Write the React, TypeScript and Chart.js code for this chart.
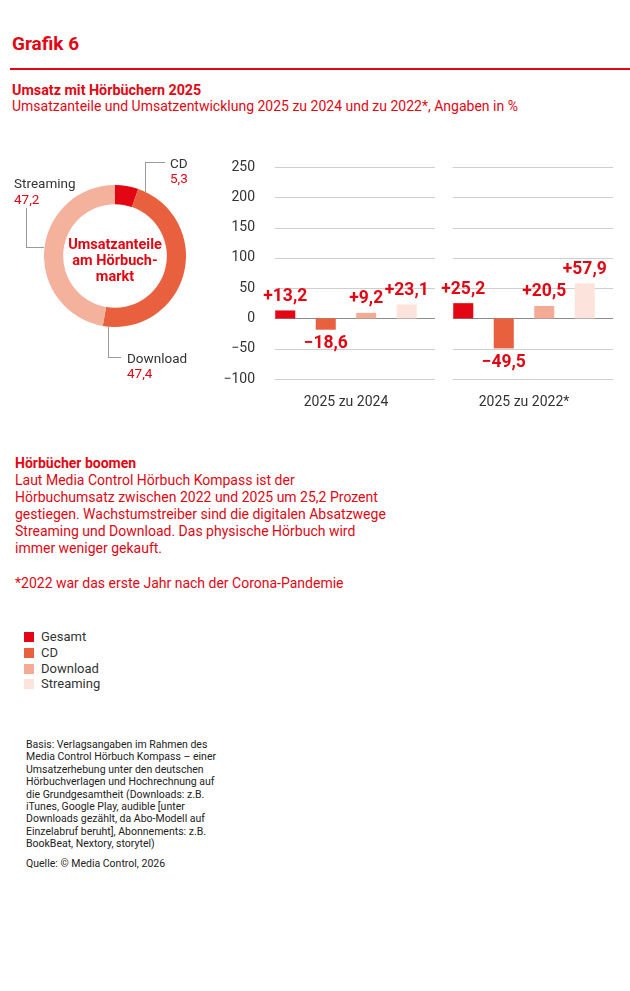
import React, { useEffect, useRef } from "react";
import { Chart, registerables } from "chart.js";
Chart.register(...registerables);

const RED = "#e30613";
const DARK = "#333333";
const FONT = "Roboto, 'Noto Sans', sans-serif";

// Donut: Umsatzanteile
const shareLabels = ["CD", "Download", "Streaming"];
const shareValues = [5.3, 47.4, 47.2];
const shareColors = ["#e30613", "#e9603f", "#f4b19b"];

// Bars: Umsatzentwicklung
const groups = ["2025 zu 2024", "2025 zu 2022*"];
const seriesNames = ["Gesamt", "CD", "Download", "Streaming"];
const gesamt = [13.2, 25.2];
const cd = [-18.6, -49.5];
const download = [9.2, 20.5];
const streaming = [23.1, 57.9];
const seriesColors = ["#e30613", "#e9603f", "#f4ab95", "#fce4dc"];
const yTicks = [250, 200, 150, 100, 50, 0, -50, -100];

const seriesData = [gesamt, cd, download, streaming];

const fmtSigned = (v: number) =>
  (v >= 0 ? "+" : "\u2212") + Math.abs(v).toFixed(1).replace(".", ",");
const fmtTick = (v: number) => (v < 0 ? "\u2212" + Math.abs(v) : String(v));
const fmtShare = (v: number) => v.toFixed(1).replace(".", ",");

const gridPlugin = {
  id: "groupGrid",
  beforeDatasetsDraw(chart: any) {
    const { ctx, scales } = chart;
    const xs = scales.x;
    const ys = scales.y;
    const w = xs.width / chart.data.labels.length;
    ctx.save();
    ctx.lineWidth = 1;
    yTicks.forEach((v) => {
      const y = Math.round(ys.getPixelForValue(v)) + 0.5;
      ctx.strokeStyle = v === 0 ? "#8c8c8c" : "#cfcfcf";
      chart.data.labels.forEach((_: any, i: number) => {
        const c = xs.getPixelForValue(i);
        ctx.beginPath();
        ctx.moveTo(c - 0.4 * w, y);
        ctx.lineTo(c + 0.5 * w, y);
        ctx.stroke();
      });
    });
    ctx.restore();
  },
};

const valueLabelPlugin = {
  id: "valueLabels",
  afterDatasetsDraw(chart: any) {
    const { ctx } = chart;
    ctx.save();
    ctx.fillStyle = RED;
    ctx.font = `bold 17.5px ${FONT}`;
    ctx.textAlign = "center";
    ctx.textBaseline = "middle";
    chart.data.datasets.forEach((ds: any, di: number) => {
      const meta = chart.getDatasetMeta(di);
      meta.data.forEach((el: any, i: number) => {
        const v = ds.data[i];
        const y = v >= 0 ? el.y - 14 : el.y + 14;
        ctx.fillText(fmtSigned(v), el.x, y);
      });
    });
    ctx.restore();
  },
};

function Txt(props: any) {
  const { x, y, size = 14, lh = 16, bold = false, color = RED, children, w, align = "left" } = props;
  return (
    <div
      style={{
        position: "absolute",
        left: x,
        top: y - lh / 2,
        width: w,
        fontFamily: FONT,
        fontSize: size,
        lineHeight: lh + "px",
        fontWeight: bold ? 700 : 400,
        color,
        whiteSpace: "nowrap",
        textAlign: align,
      }}
    >
      {children}
    </div>
  );
}

function Line(props: any) {
  const { x, y, w, h, color = "#9a9a9a" } = props;
  return <div style={{ position: "absolute", left: x, top: y, width: w, height: h, background: color }} />;
}

export default function App() {
  const donutRef = useRef<HTMLCanvasElement>(null);
  const barRef = useRef<HTMLCanvasElement>(null);

  useEffect(() => {
    const donut = new Chart(donutRef.current as HTMLCanvasElement, {
      type: "doughnut",
      data: {
        labels: shareLabels,
        datasets: [
          {
            data: shareValues,
            backgroundColor: shareColors,
            borderWidth: 0,
            hoverOffset: 0,
            offset: 0,
          } as any,
        ],
      },
      options: {
        animation: false,
        responsive: false,
        maintainAspectRatio: false,
        cutout: "73%",
        layout: { padding: 0 },
        plugins: { legend: { display: false }, tooltip: { enabled: false } },
      } as any,
    });

    const bar = new Chart(barRef.current as HTMLCanvasElement, {
      type: "bar",
      data: {
        labels: groups,
        datasets: seriesNames.map((n, i) => ({
          label: n,
          data: seriesData[i],
          backgroundColor: seriesColors[i],
          borderWidth: 0,
          categoryPercentage: 0.91,
          barPercentage: 0.495,
        })),
      },
      options: {
        animation: false,
        responsive: false,
        maintainAspectRatio: false,
        layout: { padding: { top: 27, right: 17, bottom: 0, left: 0 } },
        plugins: { legend: { display: false }, tooltip: { enabled: false } },
        scales: {
          x: {
            grid: { display: false, drawTicks: false },
            border: { display: false },
            ticks: { color: DARK, font: { family: FONT, size: 14 }, padding: 15 },
            afterFit: (s: any) => {
              s.height = 41;
            },
          },
          y: {
            min: -100,
            max: 250,
            afterBuildTicks: (s: any) => {
              s.ticks = yTicks.map((v) => ({ value: v }));
            },
            grid: { display: false, drawTicks: false },
            border: { display: false },
            ticks: {
              color: DARK,
              font: { family: FONT, size: 14 },
              padding: 2,
              callback: (v: any) => fmtTick(Number(v)),
            },
            afterFit: (s: any) => {
              s.width = 37;
            },
          },
        },
      } as any,
      plugins: [gridPlugin, valueLabelPlugin],
    });

    return () => {
      donut.destroy();
      bar.destroy();
    };
  }, []);

  return (
    <div style={{ position: "absolute", left: 0, top: 0, width: 630, height: 991, background: "#fff", overflow: "hidden" }}>
      <Txt x={12} y={44} size={19} lh={22} bold>Grafik 6</Txt>
      <Line x={10} y={68} w={620} h={2} color={RED} />
      <Txt x={12} y={90} size={14.3} lh={17} bold>Umsatz mit Hörbüchern 2025</Txt>
      <Txt x={12} y={106.5} size={14} lh={17}>Umsatzanteile und Umsatzentwicklung 2025 zu 2024 und zu 2022*, Angaben in %</Txt>

      {/* Donut */}
      <canvas ref={donutRef} width={142} height={142} style={{ position: "absolute", left: 44, top: 185, width: 142, height: 142 }} />
      <div
        style={{
          position: "absolute",
          left: 40,
          top: 237,
          width: 150,
          textAlign: "center",
          fontFamily: FONT,
          fontSize: 14.5,
          lineHeight: "16px",
          fontWeight: 700,
          color: RED,
        }}
      >
        Umsatzanteile
        <br />
        am Hörbuch-
        <br />
        markt
      </div>
      {/* leader lines */}
      <Line x={145} y={162} w={1} h={30} />
      <Line x={145} y={162} w={20} h={1} />
      <Line x={26} y={208} w={1} h={39} />
      <Line x={26} y={247} w={18} h={1} />
      <Line x={108} y={327} w={1} h={30} />
      <Line x={108} y={357} w={13} h={1} />
      <Txt x={170} y={163} size={13.5} color={DARK}>{shareLabels[0]}</Txt>
      <Txt x={170} y={178} size={13.5}>{fmtShare(shareValues[0])}</Txt>
      <Txt x={127} y={358} size={13.5} color={DARK}>{shareLabels[1]}</Txt>
      <Txt x={127} y={373} size={13.5}>{fmtShare(shareValues[1])}</Txt>
      <Txt x={14} y={183} size={13.5} color={DARK}>{shareLabels[2]}</Txt>
      <Txt x={14} y={199} size={13.5}>{fmtShare(shareValues[2])}</Txt>

      {/* Bars */}
      <canvas ref={barRef} width={410} height={280} style={{ position: "absolute", left: 220, top: 140, width: 410, height: 280 }} />

      {/* Text block */}
      <div
        style={{
          position: "absolute",
          left: 15,
          top: 463 - 8.5,
          fontFamily: FONT,
          fontSize: 14,
          lineHeight: "17px",
          color: RED,
          whiteSpace: "nowrap",
        }}
      >
        <b>Hörbücher boomen</b>
        <br />
        Laut Media Control Hörbuch Kompass ist der
        <br />
        Hörbuchumsatz zwischen 2022 und 2025 um 25,2 Prozent
        <br />
        gestiegen. Wachstumstreiber sind die digitalen Absatzwege
        <br />
        Streaming und Download. Das physische Hörbuch wird
        <br />
        immer weniger gekauft.
      </div>
      <Txt x={15} y={583} size={14} lh={17}>*2022 war das erste Jahr nach der Corona-Pandemie</Txt>

      {/* Legend */}
      {seriesNames.map((n, i) => (
        <React.Fragment key={n}>
          <div
            style={{
              position: "absolute",
              left: 24,
              top: 632 + i * 15.8,
              width: 10,
              height: 10,
              background: seriesColors[i],
            }}
          />
          <Txt x={41} y={637 + i * 15.8} size={13} color={DARK}>{n}</Txt>
        </React.Fragment>
      ))}

      {/* Basis */}
      <div
        style={{
          position: "absolute",
          left: 26,
          top: 745 - 6.25,
          fontFamily: FONT,
          fontSize: 10.5,
          lineHeight: "12.45px",
          color: "#222",
          whiteSpace: "nowrap",
        }}
      >
        Basis: Verlagsangaben im Rahmen des
        <br />
        Media Control Hörbuch Kompass – einer
        <br />
        Umsatzerhebung unter den deutschen
        <br />
        Hörbuchverlagen und Hochrechnung auf
        <br />
        die Grundgesamtheit (Downloads: z.B.
        <br />
        iTunes, Google Play, audible [unter
        <br />
        Downloads gezählt, da Abo-Modell auf
        <br />
        Einzelabruf beruht], Abonnements: z.B.
        <br />
        BookBeat, Nextory, storytel)
      </div>
      <Txt x={26} y={864} size={10.5} lh={12} color="#222">Quelle: © Media Control, 2026</Txt>
    </div>
  );
}
